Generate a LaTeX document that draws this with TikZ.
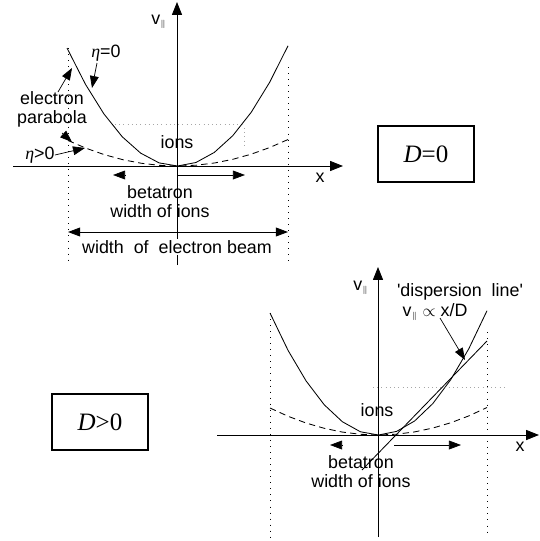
\documentclass[tikz,border=0pt]{standalone}
\usepackage{fontspec}
\setsansfont{Liberation Sans}
\newfontfamily\tmsfont{Liberation Serif}
\usetikzlibrary{arrows.meta}

\begin{document}
\begin{tikzpicture}[x=0.025cm, y=-0.025cm,
  lbl/.style={font=\sffamily\fontsize{12.7}{13.6}\selectfont, inner sep=0pt, align=center},
  axis/.style={-{Triangle[length=3.2mm, width=2.5mm]}, line width=0.6pt},
  arr/.style={-{Triangle[length=3mm, width=2.2mm]}, line width=0.5pt},
  darr/.style={{Triangle[length=3mm, width=2.2mm]}-{Triangle[length=3mm, width=2.2mm]}, line width=0.6pt},
  edge/.style={dash pattern=on 0.7pt off 3.6pt, line width=0.7pt},
  lvl/.style={dash pattern=on 0.6pt off 2.4pt, line width=0.5pt, gray!70},
  ecurve/.style={line width=0.6pt},
  icurve/.style={dash pattern=on 4.5pt off 3pt, line width=0.6pt},
  dbox/.style={draw, line width=1.1pt, minimum width=2.4cm, minimum height=1.4cm, inner sep=0pt, font=\tmsfont\fontsize{17.8}{20}\selectfont}]
\useasboundingbox (0,0) rectangle (540,541);
% oben: D=0
\coordinate (xa0) at (13,166);
\coordinate (xa1) at (343,166);
\coordinate (ya0) at (177,265);
\coordinate (ya1) at (177,2);
\draw[axis] (xa0) -- (xa1);
\draw[axis] (ya0) -- (ya1);
\node[lbl] (xa) at (320,178) {x};
\node[lbl] (va) at (159,22) {v$_{\scriptscriptstyle\parallel}$};
\draw[edge] (68,48) -- (68,265);
\draw[edge] (288,67) -- (288,265);
\draw[ecurve] plot[domain=-110:111, samples=13] ({177+\x}, {166-118*(\x/110)^2});
\draw[icurve] plot[domain=-109:111, samples=13] ({177+\x}, {166-26*(\x/110)^2});
\draw[lvl] (115,124) -- (243,124);
\draw[lvl] (244,128) -- (244,145);
\node[lbl] (ionsa) at (177,142) {ions};
\node[lbl] (betaa) at (160,202) {betatron\\width of ions};
\coordinate (bla0) at (125,175);
\coordinate (bla1) at (113,175);
\coordinate (bra0) at (177,175);
\coordinate (bra1) at (245,175);
\draw[arr] (bla0) -- (bla1);
\draw[arr] (bra0) -- (bra1);
\coordinate (wa0) at (68,232);
\coordinate (wa1) at (288,232);
\draw[darr] (wa0) -- (wa1);
\node[lbl, fill=white, inner sep=1pt] (wbeam) at (177,247) {width\ \ of\ \ electron beam};
\node[lbl] (eta0) at (106,53) {{\tmsfont\itshape η}=0};
\coordinate (e0a) at (97,63);
\coordinate (e0b) at (92,88);
\draw[arr] (e0a) -- (e0b);
\node[lbl] (epar) at (52,109) {electron\\parabola};
\coordinate (ep1a) at (58,92);
\coordinate (ep1b) at (72,68);
\coordinate (ep2a) at (62,133);
\coordinate (ep2b) at (72,142);
\draw[arr] (ep1a) -- (ep1b);
\draw[arr] (ep2a) -- (ep2b);
\node[lbl] (etap) at (40,155) {{\tmsfont\itshape η}>0};
\coordinate (epb) at (85,148);
\draw[arr] (etap.east) -- (epb);
\node[dbox] (dzero) at (426,154) {{\itshape D}=0};
% unten: D>0
\coordinate (xb0) at (217,435);
\coordinate (xb1) at (539,435);
\coordinate (yb0) at (378,537);
\coordinate (yb1) at (378,267);
\draw[axis] (xb0) -- (xb1);
\draw[axis] (yb0) -- (yb1);
\node[lbl] (xb) at (520,447) {x};
\node[lbl] (vb) at (361,288) {v$_{\scriptscriptstyle\parallel}$};
\draw[edge] (270,313) -- (270,537);
\draw[edge] (487,332) -- (487,537);
\draw[ecurve] plot[domain=-108:109, samples=13] ({378+\x}, {435-122*(\x/108)^2});
\draw[icurve] plot[domain=-108:109, samples=13] ({378+\x}, {435-27*(\x/108)^2});
\draw[lvl] (373,387) -- (507,387);
\coordinate (dl0) at (362,470);
\coordinate (dl1) at (487,341);
\draw[ecurve] (dl0) -- (dl1);
\node[lbl] (ionsb) at (377,410) {ions};
\node[lbl] (betab) at (361,472) {betatron\\width of ions};
\coordinate (blb0) at (342,445);
\coordinate (blb1) at (330,445);
\coordinate (brb0) at (394,445);
\coordinate (brb1) at (461,445);
\draw[arr] (blb0) -- (blb1);
\draw[arr] (brb0) -- (brb1);
\node[lbl] (dlab) at (460,292) {\textquotesingle dispersion\ \ line\textquotesingle};
\node[lbl] (prop) at (435,312) {v$_{\scriptscriptstyle\parallel}$ $\propto$ x/D};
\coordinate (pa0) at (440,318);
\coordinate (pa1) at (465,360);
\draw[arr] (pa0) -- (pa1);
\node[dbox] (dpos) at (100,422) {{\itshape D}>0};
\end{tikzpicture}
\end{document}
